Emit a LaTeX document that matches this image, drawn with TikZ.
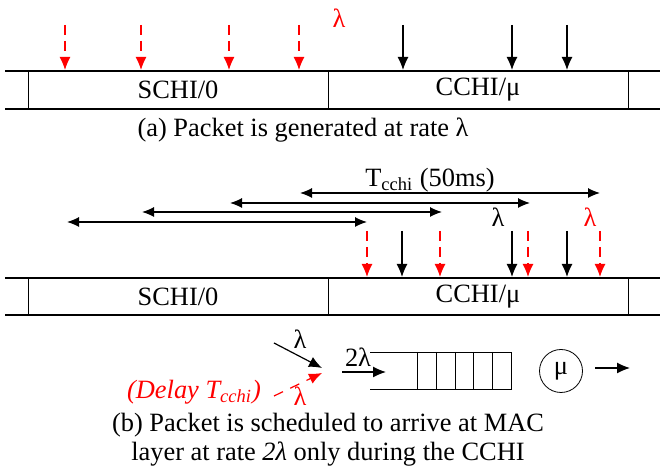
\documentclass[tikz,border=0pt]{standalone}
\usepackage{fontspec}
\setmainfont{Liberation Serif}
\usetikzlibrary{arrows.meta}

\tikzset{
  tip/.style={-{Latex[length=6.5pt,width=5.5pt]}},
  gen/.style={tip, red, semithick, dash pattern=on 5pt off 3pt},
  arr/.style={tip, semithick},
  span/.style={{Latex[length=6pt,width=5pt]}-{Latex[length=6pt,width=5pt]}, semithick},
  slot/.style={thick},
}

\begin{document}
\begin{tikzpicture}[x=0.5pt, y=-0.5pt]
\fontsize{13.2}{14.5}\selectfont
\useasboundingbox (0,0) rectangle (660,469);

% (a) generation
\node [red] (lamA) at (339,18) {λ};
\foreach \x [count=\i] in {65,141,229,299} {
  \coordinate (ga\i) at (\x,25);
  \coordinate (gb\i) at (\x,70);
  \path [gen] (ga\i) edge (gb\i);
}
\foreach \x [count=\i] in {403,512,567} {
  \coordinate (ca\i) at (\x,25);
  \coordinate (cb\i) at (\x,70);
  \path [arr] (ca\i) edge (cb\i);
}

\draw [slot] (5,71) -- (660,71);
\draw [slot] (5,109) -- (660,109);
\draw (28,71) -- (28,109);
\draw (328,71) -- (328,109);
\draw (628,71) -- (628,109);
\node (schiA) at (178,90) {SCHI/0};
\node (cchiA) at (478,90) {CCHI/μ};
\node (capA) at (303,130) {(a) Packet is generated at rate λ};

% (b) scheduling
\node (tc) at (430,180) {T\textsubscript{cchi} (50ms)};
\coordinate (s1a) at (300,193); \coordinate (s1b) at (600,193);
\coordinate (s2a) at (230,203); \coordinate (s2b) at (530,203);
\coordinate (s3a) at (142,212); \coordinate (s3b) at (442,212);
\coordinate (s4a) at (67,222);  \coordinate (s4b) at (367,222);
\path [span] (s1a) edge (s1b);
\path [span] (s2a) edge (s2b);
\path [span] (s3a) edge (s3b);
\path [span] (s4a) edge (s4b);

\node (lamB) at (498,217) {λ};
\node [red] (lamC) at (590,217) {λ};
\foreach \x [count=\i] in {367,440,528,600} {
  \coordinate (da\i) at (\x,231);
  \coordinate (db\i) at (\x,277);
  \path [gen] (da\i) edge (db\i);
}
\foreach \x [count=\i] in {402,512,567} {
  \coordinate (ea\i) at (\x,231);
  \coordinate (eb\i) at (\x,277);
  \path [arr] (ea\i) edge (eb\i);
}

\draw [slot] (5,278) -- (660,278);
\draw [slot] (5,315) -- (660,315);
\draw (28,278) -- (28,315);
\draw (328,278) -- (328,315);
\draw (628,278) -- (628,315);
\node (schiB) at (178,297) {SCHI/0};
\node (cchiB) at (478,297) {CCHI/μ};

% queue
\coordinate (in1) at (274,343);
\coordinate (in2) at (274,396);
\coordinate (mrg) at (322,368);
\coordinate (mrg2) at (322,373);
\path [arr] (in1) edge (mrg);
\node (lamE) at (300,339) {λ};
\path [gen, dash pattern=on 5pt off 4pt] (in2) edge (mrg2);
\node [red, inner sep=1pt] (lamD) at (300,396) {λ};
\node [red, anchor=east] (dly) at (270,392) {\itshape (Delay T\textsubscript{cchi})};

\coordinate (q0) at (342,372);
\coordinate (q1) at (386,372);
\path [arr] (q0) edge (q1);
\node (two) at (358,357) {2λ};
\draw (370,352) -- (511,352) -- (511,389) -- (370,389);
\foreach \x in {417,436,455,473,492}
  \draw (\x,352) -- (\x,389);

\node [draw, circle, minimum size=21.5pt, inner sep=0pt] (mu) at (561,371) {μ};
\coordinate (out0) at (595,368);
\coordinate (out) at (630,368);
\path [arr] (out0) edge (out);

\node [align=center] (capB) at (328,440)
  {(b) Packet is scheduled to arrive at MAC\\layer at rate \textit{2λ} only during the CCHI};
\end{tikzpicture}
\end{document}
